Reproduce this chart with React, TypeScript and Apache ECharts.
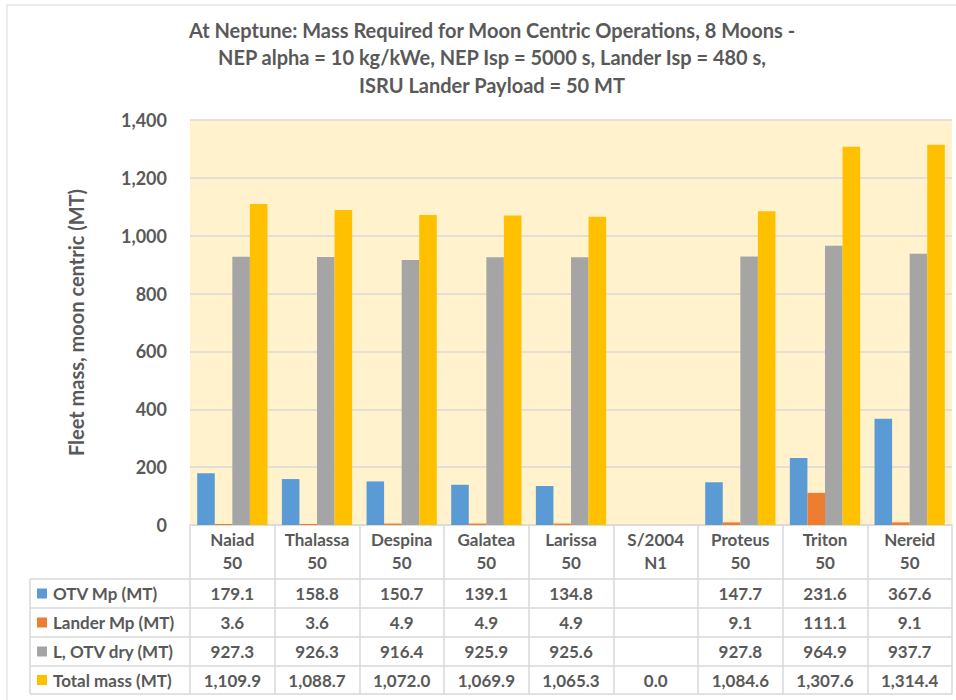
import React, { useEffect, useRef } from "react";
import * as echarts from "echarts";

const categories = [
  "Naiad\n50",
  "Thalassa\n50",
  "Despina\n50",
  "Galatea\n50",
  "Larissa\n50",
  "S/2004\nN1",
  "Proteus\n50",
  "Triton\n50",
  "Nereid\n50",
];
const seriesNames = ["OTV Mp (MT)", "Lander Mp (MT)", "L, OTV dry (MT)", "Total mass (MT)"];
const otvMp = [179.1, 158.8, 150.7, 139.1, 134.8, null, 147.7, 231.6, 367.6];
const landerMp = [3.6, 3.6, 4.9, 4.9, 4.9, null, 9.1, 111.1, 9.1];
const otvDry = [927.3, 926.3, 916.4, 925.9, 925.6, null, 927.8, 964.9, 937.7];
const totalMass = [1109.9, 1088.7, 1072.0, 1069.9, 1065.3, 0.0, 1084.6, 1307.6, 1314.4];
const colors = ["#5B9BD5", "#ED7D31", "#A5A5A5", "#FFC000"];
const titleText =
  "At Neptune: Mass Required for Moon Centric Operations, 8 Moons -\nNEP alpha = 10 kg/kWe, NEP Isp = 5000 s, Lander Isp = 480 s,\nISRU Lander Payload = 50 MT";
const yAxisTitle = "Fleet mass, moon centric (MT)";

const FONT = "Lato, 'Noto Sans', sans-serif";
const TXT = "#595959";
const LINE = "#D9D9D9";

export default function App() {
  const ref = useRef<HTMLDivElement>(null);
  useEffect(() => {
    if (!ref.current) return;
    const chart = echarts.init(ref.current, undefined, { renderer: "svg" });
    const W = 956;
    const gridLeft = 190;
    const gridRightX = 952;
    const gridTop = 120;
    const gridBottomY = 525;
    const catW = (gridRightX - gridLeft) / categories.length;
    const tableLeft = 30;
    const rowLines = [579, 608, 637, 666, 694];
    const allRows = [otvMp, landerMp, otvDry, totalMass];
    const fmt = (v: number | null) =>
      v == null ? "" : v.toLocaleString("en-US", { minimumFractionDigits: 1, maximumFractionDigits: 1 });

    const graphic: any[] = [];
    graphic.push({
      type: "rect",
      shape: { x: 7, y: 5, width: 1000, height: 800 },
      style: { fill: "none", stroke: LINE, lineWidth: 1 },
      silent: true,
    });
    rowLines.forEach((y) => {
      graphic.push({
        type: "line",
        shape: { x1: tableLeft, y1: y, x2: gridRightX, y2: y },
        style: { stroke: LINE, lineWidth: 1.5 },
      });
    });
    graphic.push({
      type: "line",
      shape: { x1: tableLeft, y1: rowLines[0], x2: tableLeft, y2: rowLines[rowLines.length - 1] },
      style: { stroke: LINE, lineWidth: 1.5 },
    });
    allRows.forEach((row, r) => {
      const yc = (rowLines[r] + rowLines[r + 1]) / 2;
      graphic.push({
        type: "rect",
        shape: { x: 37, y: yc - 5, width: 10, height: 10 },
        style: { fill: colors[r] },
      });
      graphic.push({
        type: "text",
        x: 53,
        y: yc,
        style: {
          text: seriesNames[r],
          font: `bold 17px ${FONT}`,
          fill: TXT,
          textAlign: "left",
          textVerticalAlign: "middle",
        },
      });
      row.forEach((v, i) => {
        graphic.push({
          type: "text",
          x: gridLeft + (i + 0.5) * catW,
          y: yc,
          style: {
            text: fmt(v as number | null),
            font: `bold 17px ${FONT}`,
            fill: TXT,
            textAlign: "center",
            textVerticalAlign: "middle",
          },
        });
      });
    });

    chart.setOption({
      animation: false,
      backgroundColor: "#FFFFFF",
      title: {
        text: titleText,
        left: 487,
        textAlign: "center",
        top: 11,
        textStyle: {
          fontFamily: FONT,
          fontWeight: "bold",
          fontSize: 20,
          lineHeight: 27.5,
          color: TXT,
        },
      },
      grid: {
        left: gridLeft,
        right: W - gridRightX,
        top: gridTop,
        bottom: 700 - gridBottomY,
        show: true,
        backgroundColor: "#FFF2CC",
        borderWidth: 0,
        containLabel: false,
      },
      xAxis: {
        type: "category",
        data: categories,
        axisLine: { show: true, lineStyle: { color: LINE, width: 1.5 } },
        axisTick: {
          show: true,
          interval: 0,
          alignWithLabel: false,
          length: rowLines[rowLines.length - 1] - gridBottomY,
          lineStyle: { color: LINE, width: 1.5 },
        },
        axisLabel: {
          interval: 0,
          margin: 3,
          fontFamily: FONT,
          fontWeight: "bold",
          fontSize: 17,
          lineHeight: 23,
          color: TXT,
        },
      },
      yAxis: {
        type: "value",
        min: 0,
        max: 1400,
        interval: 200,
        name: yAxisTitle,
        nameLocation: "middle",
        nameGap: 104,
        nameTextStyle: {
          fontFamily: FONT,
          fontWeight: "bold",
          fontSize: 20,
          color: TXT,
        },
        axisLine: { show: false },
        axisTick: { show: false },
        splitLine: { show: true, lineStyle: { color: LINE, width: 1.5 } },
        axisLabel: {
          margin: 23,
          fontFamily: FONT,
          fontWeight: "bold",
          fontSize: 18,
          color: TXT,
          formatter: (v: number) => v.toLocaleString("en-US"),
        },
      },
      series: [otvMp, landerMp, otvDry, totalMass].map((d, i) => ({
        type: "bar",
        name: seriesNames[i],
        data: d,
        barGap: "0%",
        barCategoryGap: "17%",
        itemStyle: { color: colors[i] },
      })),
      graphic,
    });
    return () => chart.dispose();
  }, []);
  return (
    <div
      ref={ref}
      style={{ position: "absolute", left: 0, top: 0, width: 956, height: 700 }}
    />
  );
}
